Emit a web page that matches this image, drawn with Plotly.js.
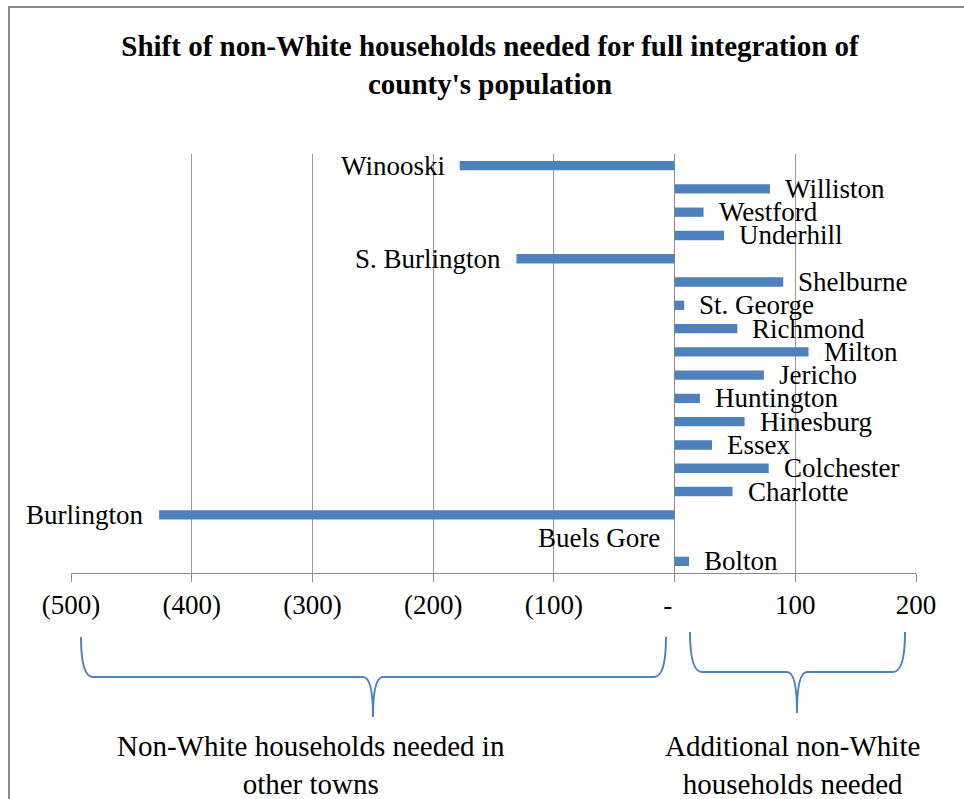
<!DOCTYPE html>
<html>
<head>
<meta charset="utf-8">
<script src="https://cdn.plot.ly/plotly-3.0.1.min.js"></script>
<style>
html,body{margin:0;padding:0;background:#fff;}
#chart{width:964px;height:799px;}
</style>
</head>
<body>
<div id="chart"></div>
<script>
// Data (top to bottom as displayed)
var towns = ["Winooski","Williston","Westford","Underhill","S. Burlington","Shelburne","St. George","Richmond","Milton","Jericho","Huntington","Hinesburg","Essex","Colchester","Charlotte","Burlington","Buels Gore","Bolton"];
var shift = [-178, 79, 24, 41, -131, 90, 8, 52, 111, 74, 21, 58, 31, 78, 48, -427, 0, 12];
var tickValues = [-500, -400, -300, -200, -100, 0, 100, 200];
var tickLabels = ["(500)", "(400)", "(300)", "(200)", "(100)", "-\u00a0\u00a0", "100", "200"];
var titleText = "Shift of non-White households needed for full integration of<br>county's population";
var leftNote = "Non-White households needed in<br>other towns";
var rightNote = "Additional non-White<br>households needed";

var FONT = "'Liberation Serif', 'Times New Roman', serif";
var W = 964, H = 799;
var M = {l: 71, r: 48, t: 154, b: 226};
var PW = W - M.l - M.r, PH = H - M.t - M.b;
function px(x){ return (x - M.l) / PW; }
function py(y){ return (H - M.b - y) / PH; }

function brace(x0, x1, xc, top, hy, bottom){
  var r = 12, r2 = 10;
  return "M " + px(x0) + "," + py(top) +
    " Q " + px(x0) + "," + py(hy) + " " + px(x0 + r) + "," + py(hy) +
    " L " + px(xc - r2) + "," + py(hy) +
    " Q " + px(xc) + "," + py(hy) + " " + px(xc) + "," + py(bottom) +
    " Q " + px(xc) + "," + py(hy) + " " + px(xc + r2) + "," + py(hy) +
    " L " + px(x1 - r) + "," + py(hy) +
    " Q " + px(x1) + "," + py(hy) + " " + px(x1) + "," + py(top);
}

var annotations = towns.map(function(t, i){
  var pos = shift[i] > 0;
  return {
    x: shift[i], y: t, xref: "x", yref: "y",
    text: t, showarrow: false,
    xanchor: pos ? "left" : "right", yanchor: "middle",
    xshift: pos ? 13 : -13,
    font: {family: FONT, size: 27, color: "#000"}
  };
});
annotations.push({
  x: px(311), y: py(765), xref: "paper", yref: "paper",
  text: leftNote, showarrow: false, xanchor: "center", yanchor: "middle",
  font: {family: FONT, size: 29, color: "#000"}
});
annotations.push({
  x: px(792), y: py(765), xref: "paper", yref: "paper",
  text: rightNote, showarrow: false, xanchor: "center", yanchor: "middle",
  font: {family: FONT, size: 29, color: "#000"}
});

var trace = {
  type: "bar", orientation: "h",
  x: shift, y: towns,
  marker: {color: "#4F81BD"},
  width: 0.4,
  hoverinfo: "none"
};

var layout = {
  width: W, height: H,
  margin: M,
  paper_bgcolor: "#fff", plot_bgcolor: "#fff",
  showlegend: false,
  font: {family: FONT, color: "#000"},
  title: {
    text: titleText,
    font: {family: FONT, size: 29, weight: "bold", color: "#000"},
    x: 490 / W, xanchor: "center", xref: "container",
    y: 1 - 56 / H, yanchor: "middle", yref: "container"
  },
  xaxis: {
    range: [-500, 200],
    tickvals: tickValues, ticktext: tickLabels,
    showgrid: true, gridcolor: "#9a9a9a", gridwidth: 1,
    zeroline: true, zerolinecolor: "#8c8c8c", zerolinewidth: 1,
    showline: true, linecolor: "#8c8c8c", linewidth: 1,
    ticks: "outside", ticklen: 8, tickcolor: "#8c8c8c",
    tickfont: {family: FONT, size: 27, color: "#000"},
    fixedrange: true
  },
  yaxis: {
    type: "category",
    range: [towns.length - 0.5, -0.5],
    showticklabels: false, showgrid: false, zeroline: false,
    showline: false, ticks: "",
    fixedrange: true
  },
  shapes: [
    {type: "path", xref: "paper", yref: "paper", path: brace(81, 666, 373, 637, 677, 717),
     line: {color: "#4F81BD", width: 2}},
    {type: "path", xref: "paper", yref: "paper", path: brace(690, 905, 797, 632, 672, 713),
     line: {color: "#4F81BD", width: 2}},
    {type: "rect", xref: "paper", yref: "paper",
     x0: px(9), x1: px(980), y0: py(7), y1: py(820),
     line: {color: "#8a8a8a", width: 2}, fillcolor: "rgba(0,0,0,0)"}
  ],
  annotations: annotations
};

Plotly.newPlot("chart", [trace], layout, {staticPlot: true, displayModeBar: false});
</script>
</body>
</html>
